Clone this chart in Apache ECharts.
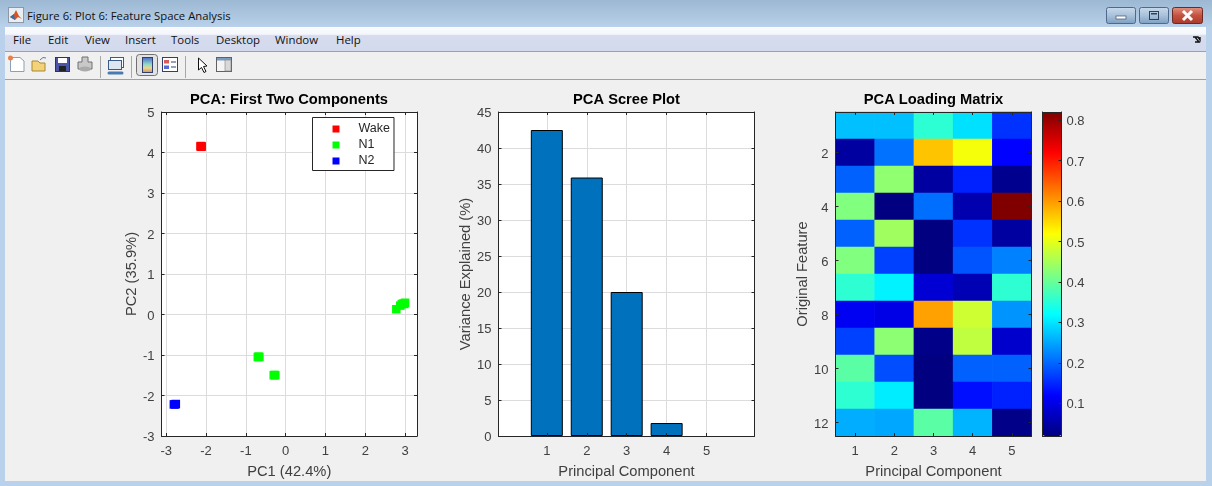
<!DOCTYPE html>
<html><head><meta charset="utf-8">
<script src="https://cdn.jsdelivr.net/npm/echarts@6/dist/echarts.min.js"></script>
<style>
html,body{margin:0;padding:0;width:1212px;height:486px;overflow:hidden;background:#B9D1EA}
#titlebar{position:absolute;left:0;top:0;width:1212px;height:27px;background:linear-gradient(#9DB8D3,#B9D1EA)}
#titletext{position:absolute;left:27px;top:8px;font:11.3px/16px "Open Sans","Noto Sans",sans-serif;color:#111}
#menubar{position:absolute;left:5px;top:27px;width:1201px;height:24px;background:linear-gradient(#FBFCFE 0,#F4F6FB 30%,#D6DCEE 36%,#D3DAED 100%);border-bottom:1px solid #A0A0A0}
.m{position:absolute;top:32px;font:11.4px/15px "Open Sans","Noto Sans",sans-serif;color:#111}
#toolbar{position:absolute;left:5px;top:52px;width:1201px;height:27px;background:#F0F0F0;border-bottom:1px solid #A0A0A0}
#fig{position:absolute;left:5px;top:80px;width:1201px;height:401px;background:#F0F0F0}
#chart{position:absolute;left:0;top:0;width:1212px;height:486px}
#ic{position:absolute;left:0;top:0}
</style></head><body>
<div id="titlebar"></div>
<svg style="position:absolute;left:8px;top:7px" width="16" height="16"><rect x=".5" y=".5" width="15" height="15" fill="#E9EEF4" stroke="#8a98a8"/><path d="M2 10 L6 7 L8 3 L11 9 L14 12 L10 10 L7 13 Z" fill="#D9531E"/><path d="M2 10 L6 7 L7 13 Z" fill="#2F6FB0"/></svg>
<div id="titletext">Figure 6: Plot 6: Feature Space Analysis</div>
<svg style="position:absolute;left:1106px;top:7px" width="97" height="17">
<defs><linearGradient id="gb" x1="0" y1="0" x2="0" y2="1"><stop offset="0" stop-color="#C8DAEC"/><stop offset=".5" stop-color="#A9C1DA"/><stop offset="1" stop-color="#7FA0C2"/></linearGradient>
<linearGradient id="gr" x1="0" y1="0" x2="0" y2="1"><stop offset="0" stop-color="#E09080"/><stop offset=".5" stop-color="#C5523F"/><stop offset="1" stop-color="#A93A2C"/></linearGradient></defs>
<rect x=".5" y=".5" width="29" height="16" rx="2" fill="url(#gb)" stroke="#50688A"/>
<rect x="10" y="9" width="10" height="3" fill="#fff" stroke="#40506A" stroke-width=".7"/>
<rect x="33.5" y=".5" width="29" height="16" rx="2" fill="url(#gb)" stroke="#50688A"/>
<rect x="43.5" y="4.5" width="9" height="8" fill="none" stroke="#30405A" stroke-width="1"/><rect x="45" y="6" width="6" height="1.5" fill="#30405A"/>
<rect x="66.5" y=".5" width="30" height="16" rx="2" fill="url(#gr)" stroke="#6A2A26"/>
<path d="M77 4 L86 13 M86 4 L77 13" stroke="#fff" stroke-width="3"/>
</svg>
<div id="menubar"></div>
<span class="m" style="left:13px">File</span><span class="m" style="left:48px">Edit</span><span class="m" style="left:85px">View</span><span class="m" style="left:125px">Insert</span><span class="m" style="left:171px">Tools</span><span class="m" style="left:216px">Desktop</span><span class="m" style="left:275px">Window</span><span class="m" style="left:336px">Help</span>
<svg style="position:absolute;left:1192px;top:36px" width="10" height="8"><path d="M1 1 L6 1 L8 4 L8 1 M3 1 L7 6 L3 6 L8 6" stroke="#111" stroke-width="1.4" fill="none"/></svg>
<div id="toolbar"></div>
<div id="fig"></div>
<svg id="ic" width="260" height="80" style="pointer-events:none">
<path d="M10.5 57.5 H20 L24 61 V71.5 H10.5 Z" fill="#fff" stroke="#8AA0B8"/><circle cx="10.5" cy="58" r="2.5" fill="#E8804A"/>
<path d="M32 61 H38 L40 63 H45 V71 H32 Z" fill="#F3D27A" stroke="#A88A30"/><path d="M40 60 Q43 56 46 58" stroke="#5A7AA0" fill="none"/>
<rect x="55.5" y="57.5" width="14" height="14" fill="#4A55A8" stroke="#2A3070"/><rect x="58" y="58" width="9" height="5" fill="#fff"/><rect x="59" y="66" width="7" height="5" fill="#222"/>
<path d="M82 57 H88 V62 H92 V69 H78 V62 H82 Z" fill="#C8C8C8" stroke="#707070"/><ellipse cx="85" cy="69" rx="6" ry="2.5" fill="#aaa"/>
<rect x="100" y="56" width="1" height="22" fill="#A8A8A8"/>
<rect x="110.5" y="57.5" width="13" height="10" fill="#fff" stroke="#3A5A8A"/><rect x="108.5" y="60.5" width="13" height="9" fill="#DDE6F2" stroke="#3A5A8A"/><path d="M109 73 H122" stroke="#4A7AB0" stroke-width="3" stroke-linecap="round"/>
<rect x="131" y="56" width="1" height="22" fill="#A8A8A8"/>
<rect x="136.5" y="54.5" width="21" height="21" rx="3" fill="#E2E2E2" stroke="#707070"/>
<defs><linearGradient id="cbg" x1="0" y1="0" x2="0" y2="1"><stop offset="0" stop-color="#4A6CC8"/><stop offset=".45" stop-color="#8FD8C8"/><stop offset=".7" stop-color="#E8D890"/><stop offset="1" stop-color="#D89060"/></linearGradient></defs>
<rect x="142.5" y="57.5" width="10" height="15" fill="url(#cbg)" stroke="#30406A"/>
<rect x="162.5" y="57.5" width="15" height="14" fill="#fff" stroke="#30406A"/><rect x="164" y="60" width="5" height="3.5" fill="#D85A5A"/><rect x="164" y="65.5" width="5" height="3.5" fill="#5A6AD8"/><path d="M171 62 H176 M171 67 H176" stroke="#30406A"/>
<rect x="185" y="56" width="1" height="22" fill="#A8A8A8"/>
<path d="M198.5 58 V70 L201.5 67.5 L204 72.5 L206 71.5 L203.5 66.5 L207 66 Z" fill="#fff" stroke="#111"/>
<rect x="216.5" y="57.5" width="15" height="14" fill="#F4F4F4" stroke="#606060"/><rect x="217" y="58" width="14" height="2.5" fill="#7A9CC0"/><rect x="225" y="60" width="6" height="11" fill="#D8D8D8" stroke="#808080" stroke-width=".6"/>
</svg>
<div id="chart"></div>
<script>
const pc1Label = 'PC1 (42.4%)', pc2Label = 'PC2 (35.9%)';
const wakePoints = [[-2.14,4.15],[-2.13,4.16],[-2.12,4.14],[-2.11,4.15]];
const n1Points = [[-0.7,-1.05],[-0.68,-1.04],[-0.66,-1.05],[-0.3,-1.5],[-0.28,-1.49],[-0.26,-1.5],
  [2.78,0.13],[2.88,0.22],[2.92,0.26],[2.96,0.27],[3.0,0.29],[2.98,0.26]];
const n2Points = [[-2.81,-2.22],[-2.78,-2.22],[-2.76,-2.21]];
const components = [1,2,3,4,5];
const varianceExplained = [42.5,35.9,20.0,1.8,0];
const featureLabels = ['1','2','3','4','5','6','7','8','9','10','11','12'];
const componentLabels = ['1','2','3','4','5'];
const loadings = [
 [0.27,0.27,0.354,0.295,0.158],
 [0.045,0.208,0.566,0.512,0.12],
 [0.195,0.432,0.045,0.145,0.03],
 [0.42,0.02,0.205,0.055,0.82],
 [0.195,0.445,0.02,0.158,0.045],
 [0.42,0.17,0.02,0.185,0.22],
 [0.355,0.31,0.085,0.06,0.355],
 [0.11,0.10,0.594,0.48,0.235],
 [0.17,0.43,0.025,0.47,0.08],
 [0.39,0.18,0.02,0.195,0.195],
 [0.355,0.305,0.02,0.13,0.145],
 [0.255,0.25,0.39,0.26,0.025]
];
const colorbarTicks = [0.1,0.2,0.3,0.4,0.5,0.6,0.7,0.8];
const jet = ['#000080','#0000ff','#0080ff','#00ffff','#80ff80','#ffff00','#ff8000','#ff0000','#800000'];
const scatterXTicks = [-3,-2,-1,0,1,2,3];
const scatterYTicks = [-3,-2,-1,0,1,2,3,4,5];
const barYTicks = [0,5,10,15,20,25,30,35,40,45];

const heatData = [];
loadings.forEach((r,i)=>r.forEach((v,j)=>heatData.push([j,i,v])));

const FONT = '"Liberation Sans",Arial,sans-serif';
const INK = '#262626', TXT = '#404040';
const line = {show:true,onZero:false,lineStyle:{color:INK,width:1}};
const tick = (cv,extra)=>Object.assign({show:true,inside:true,length:3,lineStyle:{color:INK,width:1}},cv?{customValues:cv}:{},extra||{});
const lab = (cv,margin,fmt,shift)=>Object.assign({show:true,color:TXT,fontFamily:FONT,fontSize:13,margin:margin,hideOverlap:false,showMinLabel:true,showMaxLabel:true},shift?{verticalAlign:'top',lineHeight:shift,verticalAlignMinLabel:'top',verticalAlignMaxLabel:'top',alignMinLabel:'right',alignMaxLabel:'right'}:{},cv?{customValues:cv}:{},fmt?{formatter:fmt}:{});
const split = {show:true,lineStyle:{color:'#DCDCDC',width:1}};
const nosplit = {show:false};
const nameS = {color:TXT,fontFamily:FONT,fontSize:14.7};
const ttl = (t,x)=>({text:t,left:x,top:92,padding:0,textAlign:'center',textStyle:{fontFamily:FONT,fontSize:14.7,fontWeight:'bold',color:'#000'}});
const evenOnly = (i)=>(i%2===1);
const YSHIFT = 3;

const grids = [
 {left:161.5,top:112,width:255.5,height:324,backgroundColor:'#fff',show:true,borderWidth:0},
 {left:498.5,top:112,width:256,height:324,backgroundColor:'#fff',show:true,borderWidth:0},
 {left:835.5,top:112,width:196,height:324,show:false},
 {left:1042.5,top:112,width:19,height:324,show:false}
];

const xAxes = [
 {gridIndex:0,type:'value',position:'bottom',min:-3.12,max:3.3,z:10,axisLine:line,axisTick:tick(scatterXTicks),axisLabel:lab(scatterXTicks,9),splitLine:nosplit,name:pc1Label,nameLocation:'middle',nameGap:28,nameTextStyle:nameS},
 {gridIndex:0,type:'value',position:'top',min:-3.12,max:3.3,z:0,axisLine:line,axisTick:tick(scatterXTicks),axisLabel:{show:false},splitLine:split},
 {gridIndex:1,type:'value',position:'bottom',min:-0.21,max:6.2,z:10,axisLine:line,axisTick:tick(components),axisLabel:lab(components,9),splitLine:nosplit,name:'Principal Component',nameLocation:'middle',nameGap:28,nameTextStyle:nameS},
 {gridIndex:1,type:'value',position:'top',min:-0.21,max:6.2,z:0,axisLine:line,axisTick:tick(components),axisLabel:{show:false},splitLine:split},
 {gridIndex:2,type:'category',position:'bottom',data:componentLabels,z:10,axisLine:line,axisTick:tick(null,{alignWithLabel:true}),axisLabel:lab(null,9),splitLine:nosplit,name:'Principal Component',nameLocation:'middle',nameGap:28,nameTextStyle:nameS},
 {gridIndex:2,type:'category',position:'top',data:componentLabels,z:10,axisLine:line,axisTick:tick(null,{alignWithLabel:true}),axisLabel:{show:false},splitLine:nosplit},
 {gridIndex:3,type:'value',position:'bottom',min:0,max:1,z:10,axisLine:line,axisTick:{show:false},axisLabel:{show:false},splitLine:nosplit},
 {gridIndex:3,type:'value',position:'top',min:0,max:1,z:10,axisLine:line,axisTick:{show:false},axisLabel:{show:false},splitLine:nosplit}
];
const yAxes = [
 {gridIndex:0,type:'value',position:'left',min:-3,max:5,z:10,axisLine:line,axisTick:tick(scatterYTicks),axisLabel:lab(scatterYTicks,7,null,YSHIFT),splitLine:nosplit,name:pc2Label,nameLocation:'middle',nameGap:22,nameTextStyle:nameS},
 {gridIndex:0,type:'value',position:'right',min:-3,max:5,z:0,axisLine:line,axisTick:tick(scatterYTicks),axisLabel:{show:false},splitLine:split},
 {gridIndex:1,type:'value',position:'left',min:0,max:45,z:10,axisLine:line,axisTick:tick(barYTicks),axisLabel:lab(barYTicks,7,null,YSHIFT),splitLine:nosplit,name:'Variance Explained (%)',nameLocation:'middle',nameGap:25,nameTextStyle:nameS},
 {gridIndex:1,type:'value',position:'right',min:0,max:45,z:0,axisLine:line,axisTick:tick(barYTicks),axisLabel:{show:false},splitLine:split},
 {gridIndex:2,type:'category',position:'left',inverse:true,data:featureLabels,z:10,axisLine:line,axisTick:tick(null,{alignWithLabel:true,interval:evenOnly}),axisLabel:lab(null,7,null,YSHIFT),splitLine:nosplit,name:'Original Feature',nameLocation:'middle',nameGap:25,nameTextStyle:nameS},
 {gridIndex:2,type:'category',position:'right',inverse:true,data:featureLabels,z:10,axisLine:line,axisTick:tick(null,{alignWithLabel:true,interval:evenOnly}),axisLabel:{show:false},splitLine:nosplit},
 {gridIndex:3,type:'value',position:'right',min:0.019,max:0.82,z:10,axisLine:line,axisTick:tick(colorbarTicks),axisLabel:Object.assign(lab(colorbarTicks,5,v=>v.toFixed(1),YSHIFT),{alignMinLabel:'left',alignMaxLabel:'left'}),splitLine:nosplit},
 {gridIndex:3,type:'value',position:'left',min:0.019,max:0.82,z:10,axisLine:line,axisTick:{show:false},axisLabel:{show:false},splitLine:nosplit}
];
yAxes[4].axisLabel.interval = evenOnly;

const scat = (name,data,color)=>({name,type:'scatter',xAxisIndex:0,yAxisIndex:0,data,symbol:'rect',symbolSize:8.5,itemStyle:{color,opacity:1},silent:true,z:3});

const chart = echarts.init(document.getElementById('chart'),null,{renderer:'canvas',width:1212,height:486});
chart.setOption({
 animation:false,
 backgroundColor:'transparent',
 title:[ttl('PCA: First Two Components',289),ttl('PCA Scree Plot',626.5),ttl('PCA Loading Matrix',933.5)],
 grid:grids,xAxis:xAxes,yAxis:yAxes,
 legend:{show:true,orient:'vertical',left:312.5,top:117.5,padding:[5,4,3,20],itemGap:3,itemWidth:7,itemHeight:7,icon:'rect',
   backgroundColor:'#fff',borderColor:INK,borderWidth:1,borderRadius:0,z:20,selectedMode:false,
   data:['Wake','N1','N2'],textStyle:{color:'#262626',fontFamily:FONT,fontSize:12.5,padding:[0,0,0,14]}},
 visualMap:{type:'continuous',show:true,seriesIndex:3,dimension:2,min:0.019,max:0.82,calculable:false,hoverLink:false,
   left:1042.5,top:112,itemWidth:19,itemHeight:324,padding:0,inRange:{color:jet},textStyle:{fontSize:0},text:null,z:4},
 series:[
  scat('Wake',wakePoints,'#FF0000'),
  scat('N1',n1Points,'#00FF00'),
  scat('N2',n2Points,'#0000FF'),
  {type:'heatmap',xAxisIndex:4,yAxisIndex:4,data:heatData,silent:true,itemStyle:{borderWidth:0},emphasis:{disabled:true},z:2},
  {type:'bar',xAxisIndex:2,yAxisIndex:2,barWidth:32,silent:true,z:3,
   data:components.map((c,i)=>varianceExplained[i]>0?{value:[c,varianceExplained[i]]}:{value:[c,varianceExplained[i]],itemStyle:{borderWidth:0,opacity:0}}),
   itemStyle:{color:'#0072BD',borderColor:'#000',borderWidth:1}}
 ]
});
</script>
</body></html>
